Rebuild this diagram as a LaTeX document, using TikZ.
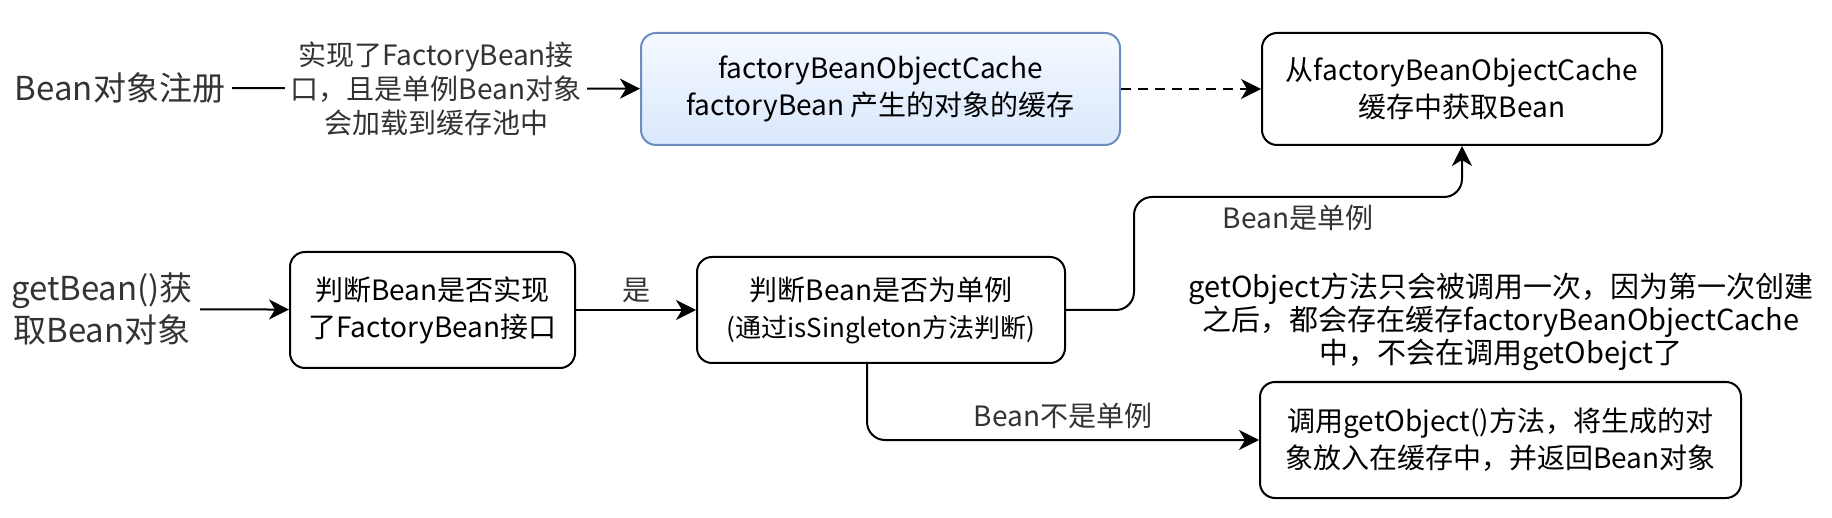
\documentclass[tikz,border=0pt]{standalone}
\usepackage{fontspec}
\setmainfont{Noto Sans CJK SC}
\usepackage{tikz}
\usetikzlibrary{arrows.meta,positioning}
\definecolor{cacheblue}{HTML}{6C8EBF}
\definecolor{cachefill}{HTML}{DAE8FC}
\definecolor{cachetop}{HTML}{F5F9FF}
\definecolor{labelgray}{HTML}{333333}
\tikzstyle{arrow} = [line width=1pt,-{Stealth[length=10pt,width=10pt,inset=3pt]}]
\tikzstyle{stepbox} = [draw, line width=1pt, rounded corners=7.5pt, align=center, font=\fontsize{14}{18.5}\selectfont]
\tikzstyle{edgetext} = [font=\fontsize{14}{17}\selectfont, text=labelgray]
\tikzstyle{starttext} = [font=\fontsize{16.5}{21}\selectfont, text=labelgray, align=center]

\begin{document}
\begin{tikzpicture}[x=0.5pt, y=-0.5pt]
\useasboundingbox (0,0) rectangle (1832,518);

% Registration row
\node[starttext] (register) at (120,88) {Bean对象注册};
\node[stepbox, draw=cacheblue, top color=cachetop, bottom color=cachefill,
      minimum width=239.5pt, minimum height=56pt] (cache) at (880.5,89)
      {factoryBeanObjectCache\\factoryBean 产生的对象的缓存};
\node[stepbox, minimum width=200pt, minimum height=56pt] (fromcache) at (1462,89)
      {从factoryBeanObjectCache\\缓存中获取Bean};

% getBean row
\node[starttext] (getbean) at (102,309) {getBean()获\\取Bean对象};
\node[stepbox, minimum width=142.5pt, minimum height=58pt] (isfactory) at (432.5,310)
      {判断Bean是否实现\\了FactoryBean接口};
\node[stepbox, minimum width=184pt, minimum height=53pt] (issingleton) at (881,310)
      {判断Bean是否为单例\\{\fontsize{13}{18.5}\selectfont(通过isSingleton方法判断)}};
\node[stepbox, minimum width=240.5pt, minimum height=58pt] (putcache) at (1500.5,440)
      {调用getObject()方法，将生成的对\\象放入在缓存中，并返回Bean对象};

% Note
\node[font=\fontsize{14.5}{16.5}\selectfont, align=center] (note) at (1501,322)
      {getObject方法只会被调用一次，因为第一次创建\\之后，都会存在缓存factoryBeanObjectCache\\中，不会在调用getObejct了};

% Connectors
\draw[arrow] (register) -- (cache)
  node[midway, fill=white, edgetext, align=center, inner sep=3pt] (registertext)
  {实现了FactoryBean接\\口，且是单例Bean对象\\会加载到缓存池中};
\draw[arrow, dash pattern=on 5pt off 3.5pt] (cache) -- (fromcache);
\draw[arrow] (getbean) -- (isfactory);
\draw[arrow] (isfactory) -- (issingleton)
  node[midway, above, edgetext] (yestext) {是};
\draw[arrow, rounded corners=9pt] (issingleton.east) -- ++(68,0)
  |- ([yshift=-25.5pt]fromcache.south) node[pos=0.75, below, edgetext] (singletext) {Bean是单例}
  -- (fromcache.south);
\draw[arrow, rounded corners=9pt] ([xshift=-7pt]issingleton.south)
  |- (putcache.west) node[pos=0.75, above=2pt, edgetext] (notsingletext) {Bean不是单例};
\end{tikzpicture}
\end{document}
